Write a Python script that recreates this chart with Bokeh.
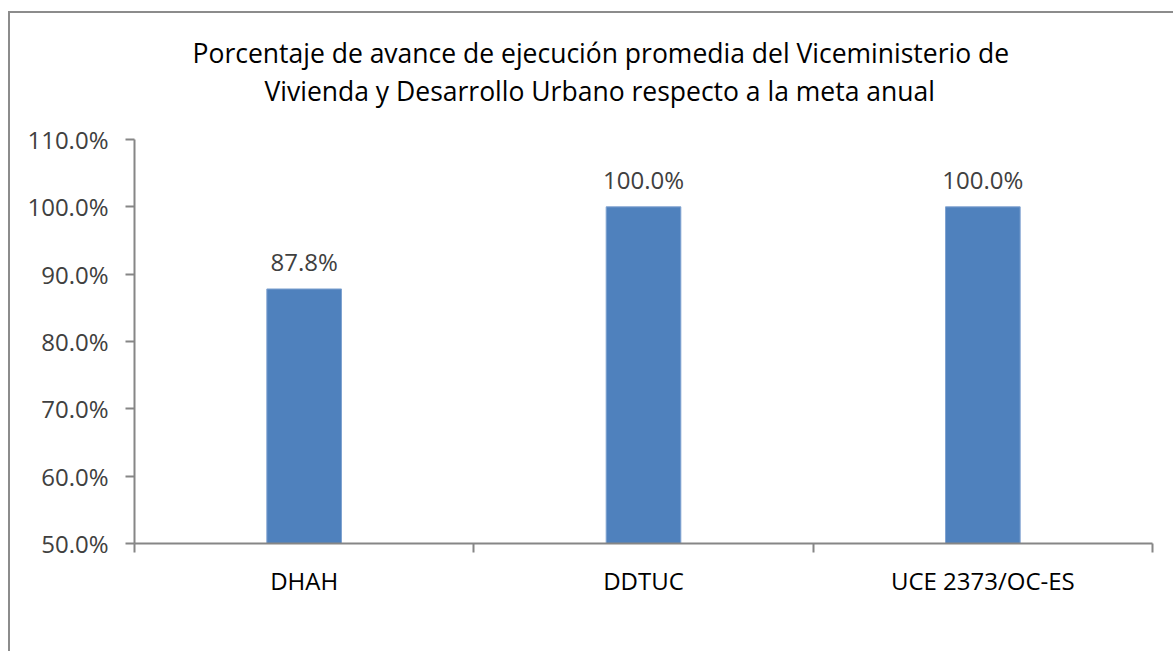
from bokeh.plotting import figure
from bokeh.models import (Range1d, FixedTicker, NumeralTickFormatter, Title, ColumnDataSource)
from bokeh.core.properties import value
from bokeh.embed import file_html
from bokeh.resources import INLINE

categories = ["DHAH", "DDTUC", "UCE 2373/OC-ES"]
values = [0.878, 1.0, 1.0]
y_ticks = [0.5, 0.6, 0.7, 0.8, 0.9, 1.0, 1.1]
title_lines = ["Porcentaje de avance de ejecución promedia del Viceministerio de",
               "Vivienda y Desarrollo Urbano respecto a la meta anual"]

FONT = "Open Sans"
GRAY = "#868686"

xpos = [i + 0.5 for i in range(len(categories))]
labels = [f"{v*100:.1f}%" for v in values]
src = ColumnDataSource(dict(x=xpos, top=values, label=labels))

p = figure(width=1165, height=640, output_backend="svg", toolbar_location=None,
           x_range=Range1d(0, len(categories)), y_range=Range1d(0.5, 1.1),
           min_border_left=124, min_border_right=23, min_border_bottom=110,
           min_border_top=126)
p.margin = (11, 0, 0, 8)
p.styles = {"border-left": "2px solid #8c8c8c", "border-top": "2px solid #8c8c8c"}
p.outline_line_color = None
p.grid.visible = False
p.background_fill_color = "white"
p.border_fill_color = "white"

p.vbar(x="x", top="top", bottom=0.5, width=0.22, source=src,
       fill_color="#4F81BD", line_color="#7FA2D0", line_width=1)
p.text(x="x", y="top", text="label", source=src, text_align="center",
       text_baseline="alphabetic", y_offset=-27, text_font=value(FONT),
       text_font_size="24px", text_color="#404040")

xa = p.xaxis[0]
xa.ticker = FixedTicker(ticks=xpos, minor_ticks=list(range(len(categories) + 1)))
xa.major_label_overrides = {x: c for x, c in zip(xpos, categories)}
xa.major_tick_out = 0
xa.major_tick_in = 0
xa.minor_tick_out = 9
xa.minor_tick_in = 0
xa.minor_tick_line_color = GRAY
xa.minor_tick_line_width = 2
xa.axis_line_color = GRAY
xa.axis_line_width = 2
xa.major_label_text_font = FONT
xa.major_label_text_font_size = "24px"
xa.major_label_text_color = "black"
xa.major_label_standoff = 11

ya = p.yaxis[0]
ya.ticker = FixedTicker(ticks=y_ticks)
ya.formatter = NumeralTickFormatter(format="0.0%")
ya.major_tick_out = 9
ya.major_tick_in = 0
ya.minor_tick_out = 0
ya.minor_tick_in = 0
ya.major_tick_line_color = GRAY
ya.major_tick_line_width = 2
ya.axis_line_color = GRAY
ya.axis_line_width = 2
ya.major_label_text_font = FONT
ya.major_label_text_font_size = "24px"
ya.major_label_text_color = "#404040"
ya.major_label_standoff = 17

# spacer between title and plot frame
p.add_layout(Title(text=" ", text_font_size="10px", standoff=18), "above")
# title lines (second line nearest the plot, added first)
offsets = [58, 130]
for line, off in reversed(list(zip(title_lines, offsets))):
    p.add_layout(Title(text=line, align="left", offset=off, standoff=0,
                       text_font=FONT, text_font_size="26.5px",
                       text_font_style="normal", text_color="black"), "above")

open("out.html", "w").write(file_html(p, INLINE))
